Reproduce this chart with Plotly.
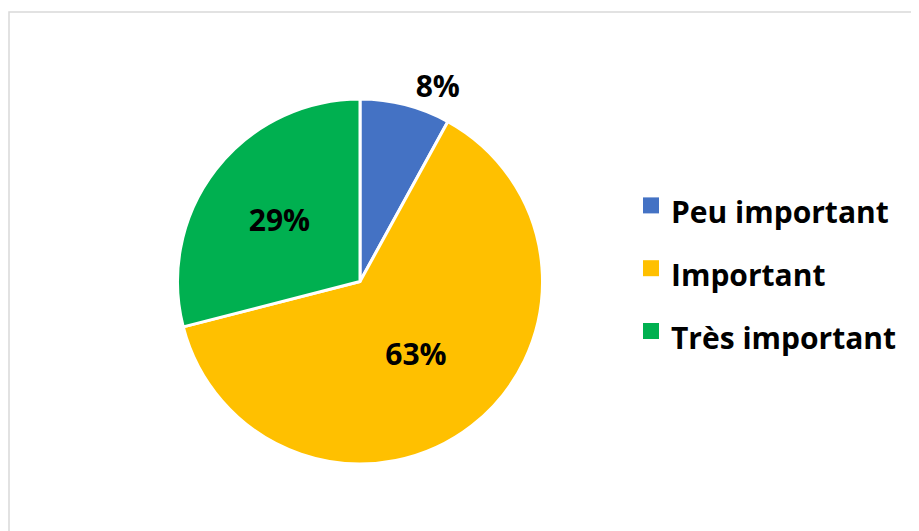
import plotly.graph_objects as go

categories = ["Peu important", "Important", "Très important"]
values = [8, 63, 29]
colors = ["#4472C4", "#FFC000", "#00B050"]

W, H = 919, 531
OFF = 8  # page body margin offsets the figure by 8px

fig = go.Figure()
fig.add_trace(go.Pie(
    labels=categories,
    values=values,
    sort=False,
    direction="clockwise",
    rotation=0,
    marker=dict(colors=colors, line=dict(color="white", width=3)),
    textinfo="percent",
    texttemplate="%{percent:.0%}",
    textposition=["outside", "inside", "inside"],
    textfont=dict(family="Open Sans", size=30, color="black", weight="bold"),
    insidetextorientation="horizontal",
    domain=dict(x=[(177 - OFF) / W, (543 - OFF) / W],
                y=[1 - (464 - OFF) / H, 1 - (99 - OFF) / H]),
    hoverinfo="skip",
    showlegend=False,
))

# legend-only entries so the swatches can be big squares like the original
for name, col in zip(categories, colors):
    fig.add_trace(go.Scatter(
        x=[None], y=[None], mode="markers",
        name=f"<span style='font-size:30px'>{name}</span>",
        marker=dict(symbol="square", size=17, color=col),
        hoverinfo="skip",
    ))

fig.update_layout(
    width=W,
    height=H,
    margin=dict(l=0, r=0, t=0, b=0),
    paper_bgcolor="white",
    plot_bgcolor="white",
    xaxis=dict(visible=False),
    yaxis=dict(visible=False),
    showlegend=True,
    legend=dict(
        x=623 / W, y=1 - 161 / H,
        xanchor="left", yanchor="top",
        font=dict(family="Open Sans", size=46, color="black", weight="bold"),
        bgcolor="rgba(0,0,0,0)",
        itemwidth=30,
    ),
    shapes=[dict(
        type="rect", xref="paper", yref="paper",
        x0=(9 - OFF) / W, x1=1.02, y0=-0.05, y1=1 - (12 - OFF) / H,
        line=dict(color="#D9D9D9", width=1.5),
    )],
)

fig.write_html("out.html")
